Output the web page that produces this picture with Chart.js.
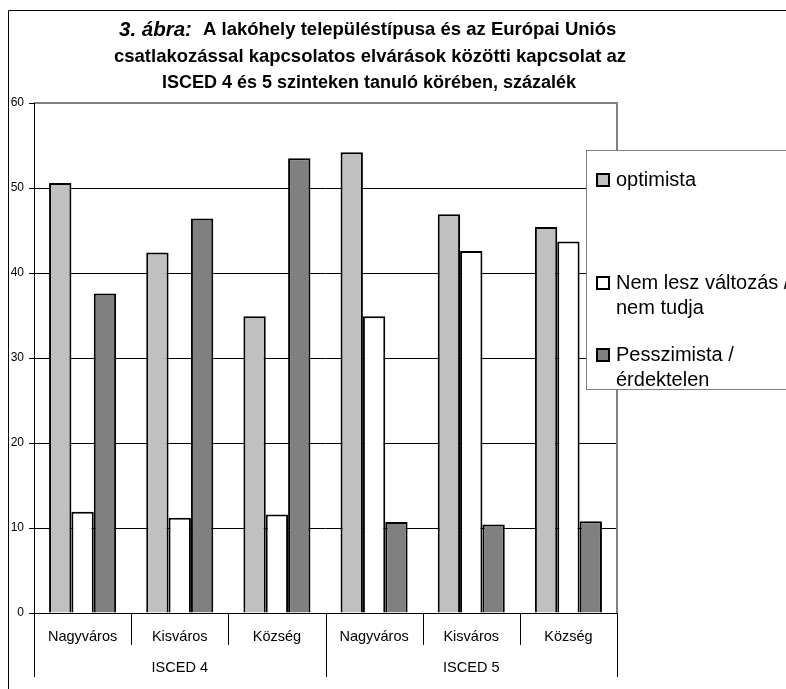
<!DOCTYPE html>
<html><head><meta charset="utf-8">
<script src="https://cdn.jsdelivr.net/npm/chart.js@4.4.1/dist/chart.umd.min.js"></script>
<style>html,body{margin:0;padding:0;background:#fff;} #wrap{width:786px;height:689px;position:relative;}</style>
</head><body><div id="wrap"><canvas id="c" width="786" height="689"></canvas></div>
<script>
// ---- data ----
const categories = ['Nagyváros', 'Kisváros', 'Község', 'Nagyváros', 'Kisváros', 'Község'];
const groups = ['ISCED 4', 'ISCED 5'];
const groupSize = 3;
const seriesNames = ['optimista', 'Nem lesz változás / nem tudja', 'Pesszimista / érdektelen'];
const legendLines = [['optimista'], ['Nem lesz változás /', 'nem tudja'], ['Pesszimista /', 'érdektelen']];
const optimista   = [50.6, 42.4, 34.9, 54.2, 46.9, 45.4];
const nemLesz     = [11.9, 11.2, 11.6, 34.9, 42.6, 43.7];
const pesszimista = [37.6, 46.4, 53.5, 10.7, 10.4, 10.8];
const yTicks = [0, 10, 20, 30, 40, 50, 60];
const titleItalic = '3. ábra:';
const titleLines = ['A lakóhely településtípusa és az Európai Uniós',
                    'csatlakozással kapcsolatos elvárások közötti kapcsolat az',
                    'ISCED 4 és 5 szinteken tanuló körében, százalék'];
const seriesColors = ['#C0C0C0', '#FFFFFF', '#808080'];

const FONT = 'Arial, "Liberation Sans", sans-serif';

const decor = {
  id: 'decor',
  beforeDraw(chart) {
    const ctx = chart.ctx;
    ctx.save();
    ctx.fillStyle = '#fff';
    ctx.fillRect(0, 0, chart.width, chart.height);
    ctx.strokeStyle = '#000'; ctx.lineWidth = 1;
    ctx.beginPath(); ctx.moveTo(8.5, chart.height + 2); ctx.lineTo(8.5, 10.5); ctx.lineTo(chart.width + 2, 10.5); ctx.stroke();
    ctx.restore();
  },
  afterDatasetsDraw(chart) {
    const ctx = chart.ctx, a = chart.chartArea, x = chart.scales.x;
    ctx.save();
    ctx.strokeStyle = '#808080'; ctx.lineWidth = 2;
    ctx.beginPath(); ctx.moveTo(a.left, a.top); ctx.lineTo(a.right, a.top); ctx.lineTo(a.right, a.bottom); ctx.stroke();
    ctx.strokeStyle = '#000'; ctx.lineWidth = 1;
    ctx.beginPath();
    ctx.moveTo(a.left + 0.5, a.top); ctx.lineTo(a.left + 0.5, a.bottom);
    ctx.moveTo(a.left, a.bottom + 0.5); ctx.lineTo(a.right, a.bottom + 0.5);
    ctx.stroke();
    const n = categories.length;
    const step = (a.right - a.left) / n;
    ctx.beginPath();
    for (let i = 0; i <= n; i++) {
      const px = Math.round(x.getPixelForValue(i) - step / 2) + 0.5;
      const isGroup = (i % groupSize === 0);
      ctx.moveTo(px, a.bottom);
      ctx.lineTo(px, a.bottom + (isGroup ? 64 : 32));
    }
    ctx.stroke();
    ctx.fillStyle = '#000';
    ctx.font = '14.5px ' + FONT;
    ctx.textAlign = 'center'; ctx.textBaseline = 'middle';
    groups.forEach((g, gi) => {
      const l = x.getPixelForValue(gi * groupSize) - step / 2;
      const r = x.getPixelForValue(gi * groupSize + groupSize - 1) + step / 2;
      ctx.fillText(g, (l + r) / 2, a.bottom + 55);
    });
    ctx.restore();
  },
  afterDraw(chart) {
    const ctx = chart.ctx;
    ctx.save();
    // title
    ctx.fillStyle = '#000'; ctx.textBaseline = 'middle'; ctx.textAlign = 'left';
    const fi = 'italic bold 20.5px ' + FONT, fb = 'bold 18.5px ' + FONT;
    ctx.font = fi; ctx.fillText(titleItalic, 119, 30);
    const wi = ctx.measureText(titleItalic).width;
    ctx.font = fb; ctx.fillText(titleLines[0], Math.max(119 + wi + 8, 203), 30);
    ctx.textAlign = 'center';
    ctx.fillText(titleLines[1], 370, 56.5);
    ctx.font = 'bold 18px ' + FONT;
    ctx.fillText(titleLines[2], 369, 83);
    // legend
    const bx = 586.5, by = 150.5, bw = 240, bh = 239;
    ctx.fillStyle = '#fff'; ctx.fillRect(bx, by, bw, bh);
    ctx.strokeStyle = '#808080'; ctx.lineWidth = 1; ctx.strokeRect(bx, by, bw, bh);
    const rowY = [180, 283, 355];
    ctx.font = '20px ' + FONT; ctx.textAlign = 'left';
    chart.data.datasets.forEach((ds, i) => {
      const y = rowY[i];
      ctx.fillStyle = ds.backgroundColor; ctx.fillRect(597, y - 6, 12, 12);
      ctx.strokeStyle = '#000'; ctx.lineWidth = 2; ctx.strokeRect(597, y - 6, 12, 12);
      ctx.fillStyle = '#000';
      legendLines[i].forEach((t, li) => ctx.fillText(t, 616, y + li * 25));
    });
    ctx.restore();
  }
};

new Chart(document.getElementById('c'), {
  type: 'bar',
  data: {
    labels: categories,
    datasets: [
      { label: seriesNames[0], data: optimista, backgroundColor: seriesColors[0] },
      { label: seriesNames[1], data: nemLesz, backgroundColor: seriesColors[1] },
      { label: seriesNames[2], data: pesszimista, backgroundColor: seriesColors[2] }
    ].map(d => Object.assign(d, { borderColor: '#000', borderWidth: 2, borderSkipped: 'bottom',
                                   categoryPercentage: 0.69, barPercentage: 1.0 }))
  },
  options: {
    responsive: false, animation: false,
    layout: { padding: { left: 9, top: 103, right: 169, bottom: 0 } },
    plugins: { legend: { display: false }, title: { display: false }, tooltip: { enabled: false } },
    scales: {
      x: {
        grid: { display: false, drawTicks: false },
        border: { display: false },
        ticks: { color: '#000', font: { family: FONT, size: 14.5 }, padding: 15, maxRotation: 0, autoSkip: false },
        afterFit(s) { s.height = 76; }
      },
      y: {
        min: 0, max: 60,
        afterBuildTicks(s) { s.ticks = yTicks.map(v => ({ value: v })); },
        grid: { color: '#000', lineWidth: 1, tickLength: 5, tickColor: '#000' },
        border: { display: false },
        ticks: { color: '#000', font: { family: FONT, size: 12 }, padding: 5 },
        afterFit(s) { s.width = 25; }
      }
    }
  },
  plugins: [decor]
});
</script></body></html>
